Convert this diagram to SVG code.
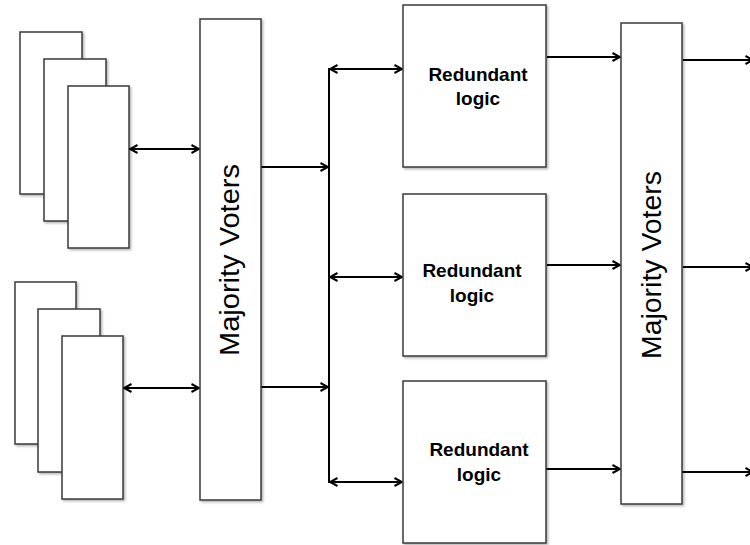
<svg xmlns="http://www.w3.org/2000/svg" width="750" height="545" viewBox="0 0 750 545">
<style>
.box{fill:#fff;stroke:#3a3a3a;stroke-width:1.5;filter:url(#sh)}
.c{stroke:#000;stroke-width:2;fill:none}
.one{marker-end:url(#ah)}
.two{marker-start:url(#ah);marker-end:url(#ah)}
.mv{font-family:"Liberation Sans",Arial,sans-serif;font-size:27px;fill:#000;text-anchor:middle}
.rl{font-family:"Liberation Sans",Arial,sans-serif;font-size:19px;font-weight:bold;fill:#000;text-anchor:middle}
</style>
<defs>
<filter id="sh" x="-10%" y="-10%" width="130%" height="130%">
<feDropShadow dx="1.5" dy="1.5" stdDeviation="1" flood-color="#000" flood-opacity="0.3"/>
</filter>
<marker id="ah" viewBox="0 0 10 10" refX="9" refY="5" markerWidth="10" markerHeight="10" markerUnits="userSpaceOnUse" orient="auto-start-reverse">
<path d="M1.5,1 L9,5 L1.5,9" fill="none" stroke="#000" stroke-width="2"/>
</marker>
</defs>

<g id="stack-top">
<rect class="box" x="20" y="32" width="62" height="162"/>
<rect class="box" x="44" y="59" width="62" height="162"/>
<rect class="box" x="68" y="86" width="61" height="162"/>
</g>
<g id="stack-bottom">
<rect class="box" x="15" y="282" width="61" height="162"/>
<rect class="box" x="38" y="309" width="62" height="163"/>
<rect class="box" x="62" y="336" width="61" height="163"/>
</g>

<g id="connectors">
<line class="c two" x1="130" y1="149" x2="199" y2="149"/>
<line class="c two" x1="124" y1="388" x2="199" y2="388"/>
<line class="c one" x1="261" y1="167" x2="328" y2="167"/>
<line class="c one" x1="261" y1="387" x2="328" y2="387"/>
<line class="c" x1="329" y1="68" x2="329" y2="483"/>
<line class="c two" x1="330" y1="69" x2="402" y2="69"/>
<line class="c two" x1="330" y1="277" x2="402" y2="277"/>
<line class="c two" x1="330" y1="482" x2="402" y2="482"/>
<line class="c one" x1="547" y1="57" x2="620" y2="57"/>
<line class="c one" x1="547" y1="265" x2="620" y2="265"/>
<line class="c one" x1="543" y1="469" x2="620" y2="469"/>
<line class="c one" x1="683" y1="60" x2="753" y2="60"/>
<line class="c one" x1="683" y1="267" x2="753" y2="267"/>
<line class="c one" x1="681" y1="472" x2="753" y2="472"/>
</g>

<g id="mv1">
<rect class="box" x="200" y="19" width="61" height="481"/>
<text class="mv" transform="translate(239,260) rotate(-90)" textLength="192" lengthAdjust="spacingAndGlyphs">Majority Voters</text>
</g>

<g id="red1">
<rect class="box" x="403" y="5" width="143" height="162"/>
<text class="rl" x="478" y="81">Redundant</text>
<text class="rl" x="478" y="105">logic</text>
</g>
<g id="red2">
<rect class="box" x="403" y="194" width="143" height="162"/>
<text class="rl" x="472" y="277">Redundant</text>
<text class="rl" x="472" y="302">logic</text>
</g>
<g id="red3">
<rect class="box" x="403" y="381" width="143" height="162"/>
<text class="rl" x="479" y="456">Redundant</text>
<text class="rl" x="479" y="481">logic</text>
</g>

<g id="mv2">
<rect class="box" x="621" y="23" width="61" height="481"/>
<text class="mv" transform="translate(661,265) rotate(-90)" textLength="188" lengthAdjust="spacingAndGlyphs">Majority Voters</text>
</g>
</svg>
